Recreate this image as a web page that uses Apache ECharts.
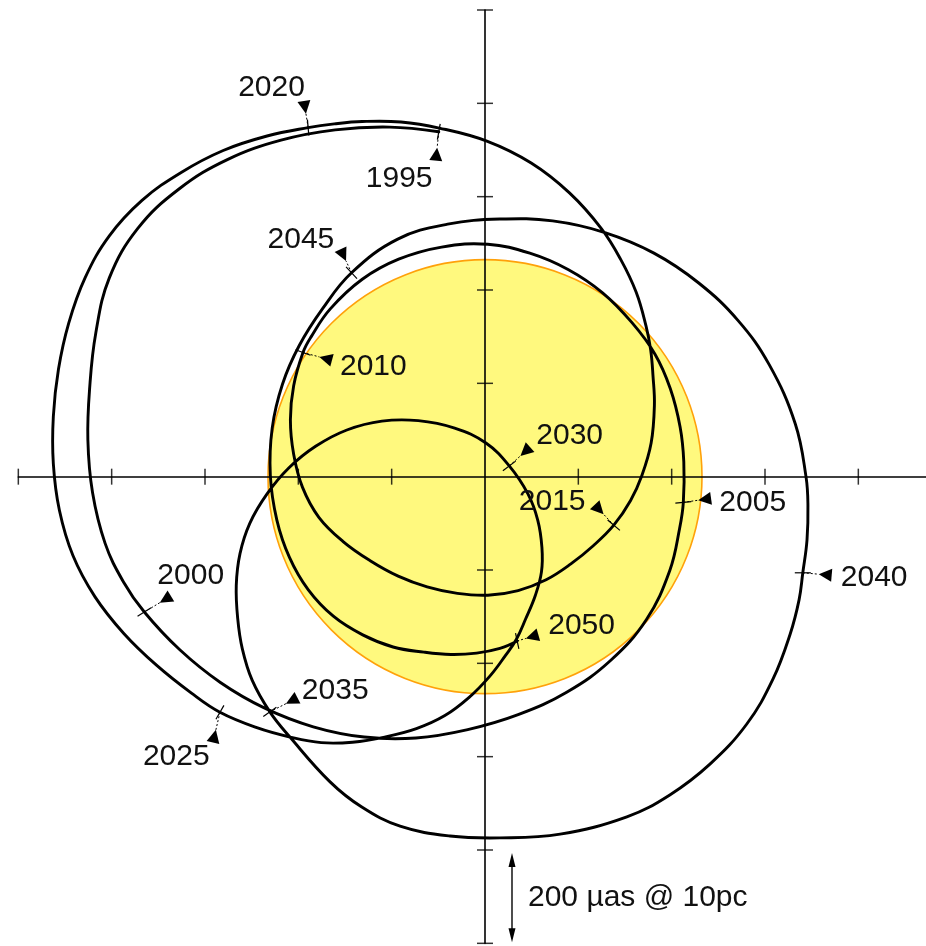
<!DOCTYPE html>
<html>
<head>
<meta charset="utf-8">
<script src="https://cdn.jsdelivr.net/npm/echarts@6/dist/echarts.min.js"></script>
<style>
html,body{margin:0;padding:0;background:#fff;}
#chart{width:926px;height:946px;}
</style>
</head>
<body>
<div id="chart"></div>
<script>
// Path of the Sun around the solar-system barycentre, seen from 10 pc (units: micro-arcseconds)
const years = [1995, 2000, 2005, 2010, 2015, 2020, 2025, 2030, 2035, 2040, 2045, 2050];

const seg1995_2000 = [[-99,739],[-204,749],[-321,743],[-437,721],[-551,680],[-655,617],[-744,532],[-805,426],[-834,308],[-847,192],[-851,79],[-841,-34],[-814,-143],[-775,-225],[-730,-290]];
const seg2000_2005 = [[-730,-290],[-654,-371],[-567,-441],[-472,-496],[-368,-536],[-259,-558],[-148,-560],[-37,-542],[71,-510],[175,-462],[269,-394],[346,-306],[396,-201],[417,-111],[425,-55]];
const seg2005_2010 = [[425,-55],[426,32],[418,107],[397,189],[364,263],[315,330],[252,394],[178,444],[96,479],[6,498],[-93,492],[-185,466],[-263,423],[-332,359],[-373,299],[-390,266]];
const seg2010_2015 = [[-390,266],[-410,195],[-417,122],[-410,48],[-391,-23],[-356,-87],[-304,-139],[-246,-180],[-186,-213],[-124,-236],[-59,-250],[6,-254],[71,-244],[131,-221],[184,-187],[232,-148],[276,-104]];
const seg2015_2020 = [[276,-104],[312,-51],[336,2],[356,72],[363,153],[360,216],[355,272],[345,323],[324,395],[291,465],[249,532],[181,608],[99,672],[4,719],[-98,747],[-180,760],[-263,761],[-323,756],[-379,748]];
const seg2020_2025 = [[-379,748],[-467,730],[-561,699],[-651,652],[-735,592],[-805,516],[-857,426],[-892,329],[-914,230],[-925,129],[-925,28],[-912,-72],[-883,-169],[-836,-257],[-774,-336],[-704,-404],[-629,-464],[-568,-505]];
const seg2025_2030 = [[-568,-505],[-489,-538],[-418,-558],[-351,-570],[-284,-569],[-215,-558],[-147,-540],[-86,-512],[-34,-473],[10,-428],[44,-383],[67,-349],[87,-305],[108,-254],[121,-204],[122,-152],[113,-93],[92,-37],[52,23]];
const seg2030_2035 = [[52,23],[2,72],[-65,104],[-143,120],[-221,119],[-296,100],[-363,65],[-420,19],[-467,-37],[-504,-100],[-525,-165],[-533,-233],[-530,-303],[-520,-369],[-499,-436],[-461,-504]];
const seg2035_2040 = [[-461,-504],[-418,-558],[-332,-654],[-264,-708],[-182,-749],[-75,-770],[32,-774],[161,-766],[304,-729],[396,-682],[482,-616],[561,-530],[617,-434],[654,-337],[673,-264],[681,-206]];
const seg2040_2045 = [[681,-206],[690,-136],[692,-61],[688,-1],[665,113],[609,240],[542,335],[458,415],[362,479],[257,523],[145,548],[32,552],[-80,541],[-187,509],[-286,437]];
const seg2045_2050 = [[-286,437],[-348,360],[-398,281],[-434,198],[-456,104],[-460,3],[-446,-93],[-419,-173],[-379,-242],[-325,-299],[-262,-339],[-197,-365],[-131,-376],[-73,-381],[-18,-378],[32,-368],[69,-352]];

const sunRadius = 465;            // solar radius seen from 10 pc
const axisTicks = [-1000, -800, -600, -400, -200, 200, 400, 600, 800, 1000];
const scaleBar = [-800, -1000];   // 200 micro-arcsec bar
const scaleText = '200 µas @ 10pc';

const segments = [seg1995_2000, seg2000_2005, seg2005_2010, seg2010_2015, seg2015_2020, seg2020_2025,
                  seg2025_2030, seg2030_2035, seg2035_2040, seg2040_2045, seg2045_2050];

// ---- derived structures ----
const pathData = [];
segments.forEach((s, k) => s.forEach((pt, j) => { if (k === 0 || j > 0) pathData.push(pt); }));
const lastSeg = segments[segments.length - 1];
const markerData = years.map((y, i) => {
  const pt = i < segments.length ? segments[i][0] : lastSeg[lastSeg.length - 1];
  return [pt[0], pt[1]];
});

// layout of the date annotations (pixel offsets / angles only)
const markerLayout = [
  {dir: 96,   tip: 16, lx: -73, ly: 47,  tick: 100},
  {dir: -31,  tip: 18, lx: 13,  ly: -36, tick: -32},
  {dir: -8,   tip: 15, lx: 36,  ly: 0,   tick: -5},
  {dir: 15,   tip: 17, lx: 37,  ly: 14,  tick: 20},
  {dir: -133, tip: 15, lx: -95, ly: -23, tick: -140},
  {dir: -99,  tip: 14, lx: -70, ly: -40, tick: -95},
  {dir: 103,  tip: 18, lx: -77, ly: 44,  tick: 120},
  {dir: -42,  tip: 15, lx: 27,  ly: -30, tick: -37},
  {dir: -27,  tip: 18, lx: 32,  ly: -21, tick: -35},
  {dir: 5,    tip: 16, lx: 38,  ly: 5,   tick: 0},
  {dir: -115, tip: 13, lx: -84, ly: -33, tick: -133},
  {dir: -16,  tip: 9,  lx: 31,  ly: -15, tick: 78}
];

const FONT = '30px "Liberation Sans", Arial, Helvetica, sans-serif';

function renderSun(params, api) {
  const c = api.coord([api.value(0), api.value(1)]);
  const r = api.size([api.value(2), 0])[0];
  return {type: 'circle', shape: {cx: c[0], cy: c[1], r: r},
          style: {fill: '#FFF97E', stroke: '#FFA10A', lineWidth: 1.6}};
}

// the whole path as one smooth curve through the data points (no control-point clamping)
function renderPath(params, api) {
  const pts = pathData.map(p => api.coord(p));
  return {type: 'polyline', shape: {points: pts, smooth: 0.4},
          style: {stroke: '#000', lineWidth: 2.9, fill: null, lineJoin: 'round', lineCap: 'round'}};
}

function renderMarker(params, api) {
  const i = params.dataIndex;
  const p = api.coord([api.value(0), api.value(1)]);
  const L = markerLayout[i];
  const d = L.dir * Math.PI / 180, t = L.tick * Math.PI / 180;
  const ux = Math.cos(d), uy = Math.sin(d);
  const tx = Math.cos(t), ty = Math.sin(t);
  const tl = 13, hw = 6.5;
  const tip = [p[0] + ux * L.tip, p[1] + uy * L.tip];
  const base = [p[0] + ux * (L.tip + tl), p[1] + uy * (L.tip + tl)];
  const nx = -uy, ny = ux;
  return {type: 'group', children: [
    {type: 'line', shape: {x1: p[0] - tx * 8, y1: p[1] - ty * 8, x2: p[0] + tx * 8, y2: p[1] + ty * 8},
     style: {stroke: '#000', lineWidth: 1.2}},
    {type: 'line', shape: {x1: p[0], y1: p[1], x2: tip[0], y2: tip[1]},
     style: {stroke: '#000', lineWidth: 1, lineDash: [2, 2]}},
    {type: 'polygon', shape: {points: [tip, [base[0] + nx * hw, base[1] + ny * hw], [base[0] - nx * hw, base[1] - ny * hw]]},
     style: {fill: '#000'}},
    {type: 'text', style: {text: String(years[i]), x: p[0] + L.lx, y: p[1] + L.ly, fill: '#111',
     font: FONT, align: 'left', verticalAlign: 'middle'}}
  ]};
}

function renderScale(params, api) {
  const a = api.coord([0, api.value(0)]);
  const b = api.coord([0, api.value(1)]);
  const x = a[0] + 27;
  const y1 = a[1] + 3, y2 = b[1] - 1;
  const hl = 14, hw = 3.5;
  return {type: 'group', children: [
    {type: 'line', shape: {x1: x, y1: y1 + 4, x2: x, y2: y2 - 4}, style: {stroke: '#000', lineWidth: 1.4}},
    {type: 'polygon', shape: {points: [[x, y1], [x - hw, y1 + hl], [x + hw, y1 + hl]]}, style: {fill: '#000'}},
    {type: 'polygon', shape: {points: [[x, y2], [x - hw, y2 - hl], [x + hw, y2 - hl]]}, style: {fill: '#000'}},
    {type: 'text', style: {text: scaleText, x: x + 16, y: (y1 + y2) / 2, fill: '#111', font: FONT,
     align: 'left', verticalAlign: 'middle'}}
  ]};
}

const axisCommon = {
  type: 'value', interval: 200, z: 2,
  axisLine: {show: true, onZero: true, lineStyle: {color: '#000', width: 1.6}},
  axisTick: {show: false}, axisLabel: {show: false}, splitLine: {show: false}
};

const chart = echarts.init(document.getElementById('chart'), null, {renderer: 'canvas'});
chart.setOption({
  animation: false,
  backgroundColor: '#ffffff',
  grid: {left: 18.33, right: 0, top: 10, bottom: 2.67, containLabel: false, outerBoundsMode: 'none'},
  xAxis: Object.assign({}, axisCommon, {min: -1000, max: 945}),
  yAxis: Object.assign({}, axisCommon, {min: -1000, max: 1000}),
  series: [
    {type: 'custom', name: 'Sun', z: 1, silent: true, clip: false,
     data: [[0, 0, sunRadius]], renderItem: renderSun},
    {type: 'scatter', name: 'xticks', z: 2, silent: true, symbol: 'rect', symbolSize: [1.5, 16],
     itemStyle: {color: '#000'}, data: axisTicks.filter(v => v < 945).map(v => [v, 0])},
    {type: 'scatter', name: 'yticks', z: 2, silent: true, symbol: 'rect', symbolSize: [16, 1.5],
     itemStyle: {color: '#000'}, data: axisTicks.map(v => [0, v])},
    {type: 'custom', name: 'barycentre path', z: 3, silent: true, clip: false,
     data: [pathData[0]], renderItem: renderPath},
    {type: 'custom', name: 'dates', z: 4, silent: true, clip: false, data: markerData, renderItem: renderMarker},
    {type: 'custom', name: 'scale', z: 4, silent: true, clip: false, data: [scaleBar], renderItem: renderScale}
  ]
});
</script>
</body>
</html>
